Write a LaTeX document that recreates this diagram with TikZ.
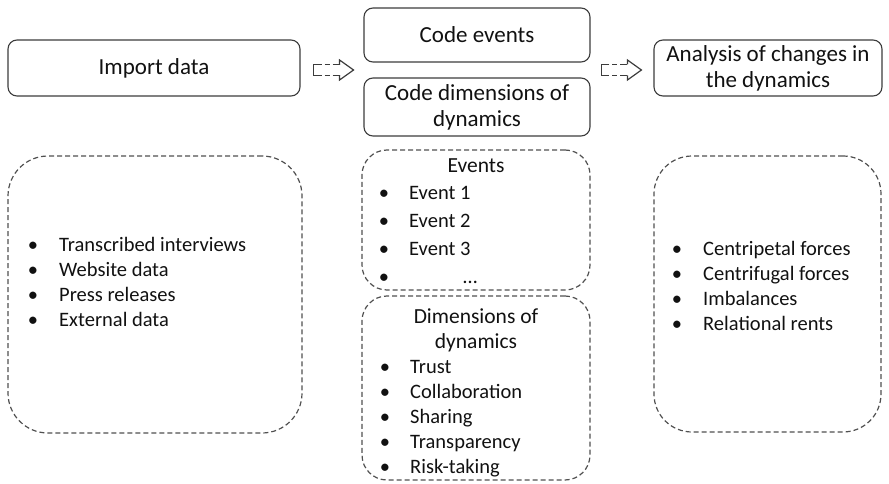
\documentclass[tikz,border=0pt]{standalone}
\usepackage{fontspec}
\setmainfont{Carlito}
\usetikzlibrary{calc}
\definecolor{txt}{HTML}{111111}
\definecolor{boxline}{HTML}{3C3C3C}
\definecolor{dashline}{HTML}{505050}
\begin{document}
\begin{tikzpicture}[x=1pt,y=-1pt,
  solidbox/.style={draw=boxline, line width=1.1pt, rounded corners=9pt, inner sep=0pt},
  dashbox/.style={draw=dashline, line width=1.2pt, dash pattern=on 5pt off 3pt, inner sep=0pt},
  title/.style={font=\fontsize{23}{26}\selectfont, align=center, text=txt},
  head/.style={font=\fontsize{21.5}{25}\selectfont, anchor=base, text=txt, inner sep=0pt},
  item/.style={font=\fontsize{20.5}{25}\selectfont, anchor=base west, text=txt, inner sep=0pt},
  bul/.style={font=\fontsize{20.5}{25}\selectfont, anchor=base, text=txt, inner sep=0pt},
  arrowline/.style={draw=boxline, line width=1.2pt, line join=miter},
  shaftdash/.style={arrowline, dash pattern=on 0pt off 3pt on 5pt off 3pt on 7pt}]
\useasboundingbox (0,0) rectangle (889,484);

% top row: process steps
\node[solidbox, title, minimum width=292pt, minimum height=56pt] (import) at (154,68) {Import data};
\node[solidbox, title, minimum width=226pt, minimum height=54pt] (events) at (477,35) {Code events};
\node[solidbox, title, minimum width=226pt, minimum height=58pt] (dims) at (477,107) {Code dimensions of\\dynamics};
\node[solidbox, title, minimum width=228pt, minimum height=56pt] (analysis) at (768,68) {Analysis of changes in\\the dynamics};

% hollow block arrows: solid tail bracket and head, dashed shaft between
\newcommand\hollowarrow[1]{%
  \draw[arrowline] (#1) ++(26,-5.5) -- ++(0,-4.5) -- ++(14,10) -- ++(-14,10) -- ++(0,-4.5);
  \draw[arrowline] (#1) ++(8,-5.5) -- ++(-8,0) -- ++(0,11) -- ++(8,0);
  \draw[shaftdash] (#1) ++(8,-5.5) -- ++(18,0);
  \draw[shaftdash] (#1) ++(8,5.5) -- ++(18,0);}
\coordinate (a1) at ($(import.east)+(13,2)$);
\coordinate (a2) at ($(analysis.west)+(-52,2)$);
\hollowarrow{a1}
\hollowarrow{a2}

% bottom row: dashed containers
\node[dashbox, rounded corners=40pt, minimum width=294pt, minimum height=277pt] (sources) at (155,294.5) {};
\node[dashbox, rounded corners=25pt, minimum width=228pt, minimum height=140pt] (evlist) at (476,220) {};
\node[dashbox, rounded corners=25pt, minimum width=228pt, minimum height=184pt] (dimlist) at (476,388) {};
\node[dashbox, rounded corners=38pt, minimum width=227pt, minimum height=276pt] (results) at (767.5,294) {};

% data sources
\foreach \t [count=\i] in {Transcribed interviews, Website data, Press releases, External data} {
  \node[bul] (sb\i) at (33,226+25*\i) {\textbullet};
  \node[item] (st\i) at (59,226+25*\i) {\t};
}

% events
\node[head] (evhead) at (476,172) {Events};
\foreach \t [count=\i] in {Event 1, Event 2, Event 3} {
  \node[bul] (eb\i) at (384,171+28*\i) {\textbullet};
  \node[item] (et\i) at (409,171+28*\i) {\t};
}
\node[bul] (eb4) at (384,283) {\textbullet};
\node[item] (et4) at (463,283) {\dots};

% dimensions of dynamics
\node[head] (dhead1) at (476,323) {Dimensions of};
\node[head] (dhead2) at (476,348) {dynamics};
\foreach \t [count=\i] in {Trust, Collaboration, Sharing, Transparency, Risk-taking} {
  \node[bul] (db\i) at (385,348+25*\i) {\textbullet};
  \node[item] (dt\i) at (410,348+25*\i) {\t};
}

% analysis outcomes
\foreach \t [count=\i] in {Centripetal forces, Centrifugal forces, Imbalances, Relational rents} {
  \node[bul] (rb\i) at (677,230+25*\i) {\textbullet};
  \node[item] (rt\i) at (703,230+25*\i) {\t};
}
\end{tikzpicture}
\end{document}
